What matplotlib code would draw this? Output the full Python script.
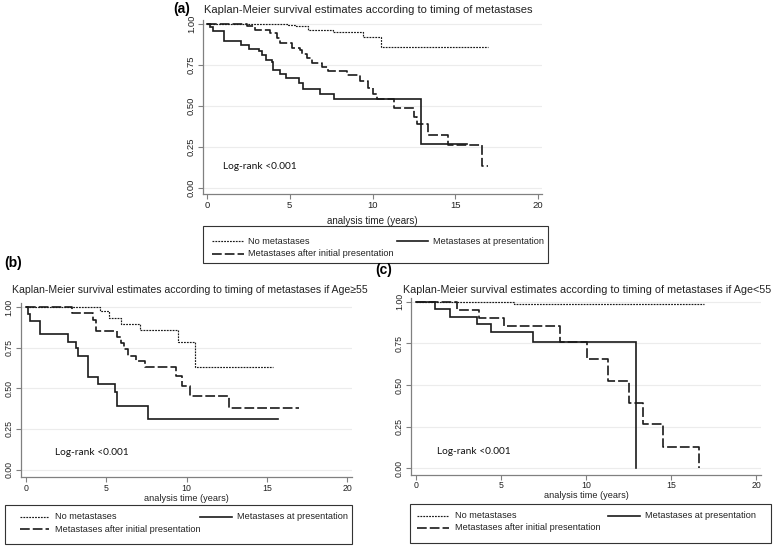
import matplotlib
matplotlib.use('Agg')
import matplotlib.pyplot as plt
from matplotlib.lines import Line2D
from matplotlib.patches import Rectangle
from matplotlib.transforms import Affine2D

plt.rcParams['font.family'] = ['Liberation Sans', 'DejaVu Sans']
plt.rcParams['lines.scale_dashes'] = False

W, H, DPI = 773, 548, 100

# ---------------- data ----------------
labels = ["No metastases", "Metastases at presentation", "Metastases after initial presentation"]
x_ticks = [0, 5, 10, 15, 20]
y_ticks = [0.0, 0.25, 0.5, 0.75, 1.0]
x_label = "analysis time (years)"
logrank = "Log-rank <0.001"

title_a = "Kaplan-Meier survival estimates according to timing of metastases"
title_b = "Kaplan-Meier survival estimates according to timing of metastases if Age\u226555"
title_c = "Kaplan-Meier survival estimates according to timing of metastases if Age<55"

# panel (a)
a_none_t = [0, 4.9, 5.4, 6.1, 7.63, 9.45, 10.5, 16.95]
a_none_s = [1.0, 0.995, 0.986, 0.965, 0.951, 0.922, 0.858, 0.858]
a_pres_t = [0, 0.2, 0.35, 1.0, 2.03, 2.56, 3.16, 3.3, 3.57, 3.9, 4.0, 4.41, 4.75,
            5.58, 5.82, 6.83, 7.67, 12.93, 15.7]
a_pres_s = [1.0, 0.98, 0.96, 0.895, 0.874, 0.85, 0.833, 0.81, 0.78, 0.77, 0.72, 0.695,
            0.67, 0.64, 0.605, 0.573, 0.54, 0.266, 0.266]
a_after_t = [0, 2.4, 2.9, 3.8, 4.25, 4.4, 5.12, 5.62, 5.72, 6.06, 6.32, 6.93, 7.33,
             8.44, 9.24, 9.7, 10.05, 10.25, 11.32, 12.53, 12.67, 13.37, 14.54, 16.64, 17.0]
a_after_s = [1.0, 0.986, 0.965, 0.945, 0.915, 0.884, 0.854, 0.843, 0.817, 0.79, 0.762,
             0.736, 0.716, 0.687, 0.65, 0.61, 0.573, 0.54, 0.488, 0.43, 0.39, 0.325,
             0.265, 0.132, 0.132]

# panel (b) Age>=55
b_none_t = [0, 4.6, 5.2, 5.9, 7.1, 9.5, 10.5, 15.4]
b_none_s = [1.0, 0.975, 0.93, 0.895, 0.86, 0.787, 0.63, 0.63]
b_pres_t = [0, 0.1, 0.25, 0.9, 2.6, 3.1, 3.25, 3.85, 4.5, 5.55, 5.7, 7.6, 15.7]
b_pres_s = [1.0, 0.96, 0.914, 0.834, 0.787, 0.75, 0.70, 0.569, 0.526, 0.48, 0.393, 0.31, 0.31]
b_after_t = [0, 2.85, 4.15, 4.35, 5.7, 5.9, 6.1, 6.35, 6.85, 7.4, 9.35, 9.75, 10.2, 12.67, 17.0]
b_after_s = [1.0, 0.965, 0.92, 0.853, 0.815, 0.78, 0.74, 0.70, 0.665, 0.628, 0.573,
             0.515, 0.454, 0.378, 0.378]

# panel (c) Age<55
c_none_t = [0, 5.78, 16.94]
c_none_s = [1.0, 0.986, 0.986]
c_pres_t = [0, 1.12, 2.0, 3.57, 4.4, 6.86, 12.94, 12.94]
c_pres_s = [1.0, 0.956, 0.91, 0.866, 0.82, 0.76, 0.0, 0.0]
c_after_t = [0, 2.39, 3.7, 5.2, 8.45, 10.05, 11.27, 12.54, 13.38, 14.51, 16.65, 16.65]
c_after_s = [1.0, 0.95, 0.9, 0.856, 0.76, 0.656, 0.524, 0.39, 0.264, 0.13, 0.0, 0.0]

# ---------------- styles ----------------
STY = {
    "none": dict(color="#1a1a1a", lw=0.85, dashes=(1.3, 0.8)),
    "pres": dict(color="#1a1a1a", lw=1.2, linestyle="-"),
    "after": dict(color="#1a1a1a", lw=1.2, dashes=(7.0, 2.2)),
}
AXC = "#808080"
GRIDC = "#ececec"

fig = plt.figure(figsize=(W / DPI, H / DPI), dpi=DPI)
pix = Affine2D().scale(1.0 / W, -1.0 / H).translate(0, 1) + fig.transFigure


def panel(box, x0px, xs, y1px, ys, series, logpos, tsize, lpad):
    left, right, top, bottom = box
    ax = fig.add_axes([left / W, 1 - bottom / H, (right - left) / W, (bottom - top) / H])
    ax.set_xlim((left - x0px) / xs, (right - x0px) / xs)
    ax.set_ylim(1 - (bottom - y1px) / ys, 1 - (top - y1px) / ys)
    for s in ("top", "right"):
        ax.spines[s].set_visible(False)
    for s in ("left", "bottom"):
        ax.spines[s].set_color(AXC)
        ax.spines[s].set_linewidth(0.9)
    ax.set_yticks(y_ticks)
    ax.set_yticklabels(["%.2f" % v for v in y_ticks], rotation=90, va="center")
    ax.set_xticks(x_ticks)
    ax.set_xticklabels([str(v) for v in x_ticks])
    ax.tick_params(axis="both", colors=AXC, labelcolor="#222222", labelsize=tsize,
                   length=3.5, width=0.8, direction="out")
    ax.tick_params(axis="y", pad=1.5)
    ax.tick_params(axis="x", pad=1.5)
    ax.yaxis.grid(True, color=GRIDC, lw=0.8)
    ax.set_axisbelow(True)
    ax.set_xlabel(x_label, fontsize=tsize + 0.3, color="#222222", labelpad=lpad)
    for key in ("none", "pres", "after"):
        t, s = series[key]
        ax.step(t, s, where="post", solid_joinstyle="miter", **STY[key])
    ax.text(logpos[0], logpos[1], logrank, family=["Lato", "DejaVu Sans"],
            fontsize=7.3, color="#111111", ha="left", va="center")
    return ax


def legend_box(box, rows_y, col1, col2):
    left, right, top, bottom = box
    fig.add_artist(Rectangle((left, top), right - left, bottom - top, transform=pix,
                             fill=False, edgecolor="#333333", lw=0.8))
    entries = [("none", col1, rows_y[0], labels[0]),
               ("pres", col2, rows_y[0], labels[1]),
               ("after", col1, rows_y[1], labels[2])]
    for key, (x1, x2, xt), y, lab in entries:
        fig.add_artist(Line2D([x1, x2], [y, y], transform=pix, **STY[key]))
        fig.text(xt, y, lab, transform=pix, fontsize=6.6, color="#222222",
                 ha="left", va="center")


# panel (a)
ax_a = panel((203, 541.5, 20, 194), 207, 16.55, 24, 164,
             {"none": (a_none_t, a_none_s), "pres": (a_pres_t, a_pres_s),
              "after": (a_after_t, a_after_s)},
             (0.97, 0.134), 6.8, 4.0)
legend_box((203, 548, 226, 263), (241, 254), (211.7, 244, 248), (396.7, 428.3, 433))
fig.text(204, 10, title_a, transform=pix, fontsize=8.0, color="#222222", ha="left", va="center")
fig.text(182, 9, "(a)", transform=pix, fontsize=10, fontweight="bold", ha="center", va="center")

# panel (b)
ax_b = panel((20.5, 352, 303, 477), 26, 16.05, 307, 162.5,
             {"none": (b_none_t, b_none_s), "pres": (b_pres_t, b_pres_s),
              "after": (b_after_t, b_after_s)},
             (1.8, 0.103), 6.3, 0.5)
legend_box((5, 352, 505, 544), (516.7, 529.3), (20, 49, 55), (200, 231.7, 236.7))
fig.text(12, 290, title_b, transform=pix, fontsize=7.6, color="#222222", ha="left", va="center")
fig.text(13, 263, "(b)", transform=pix, fontsize=10, fontweight="bold", ha="center", va="center")

# panel (c)
ax_c = panel((411, 761, 298, 474.5), 416, 17.0, 301.7, 166.7,
             {"none": (c_none_t, c_none_s), "pres": (c_pres_t, c_pres_s),
              "after": (c_after_t, c_after_s)},
             (1.24, 0.10), 6.3, 0.5)
legend_box((410, 771, 504, 542.7), (516, 528), (416.7, 449.3, 455), (608, 640, 645))
fig.text(403, 290, title_c, transform=pix, fontsize=7.75, color="#222222", ha="left", va="center")
fig.text(384, 270, "(c)", transform=pix, fontsize=10, fontweight="bold", ha="center", va="center")

fig.savefig("out.png", dpi=DPI)
